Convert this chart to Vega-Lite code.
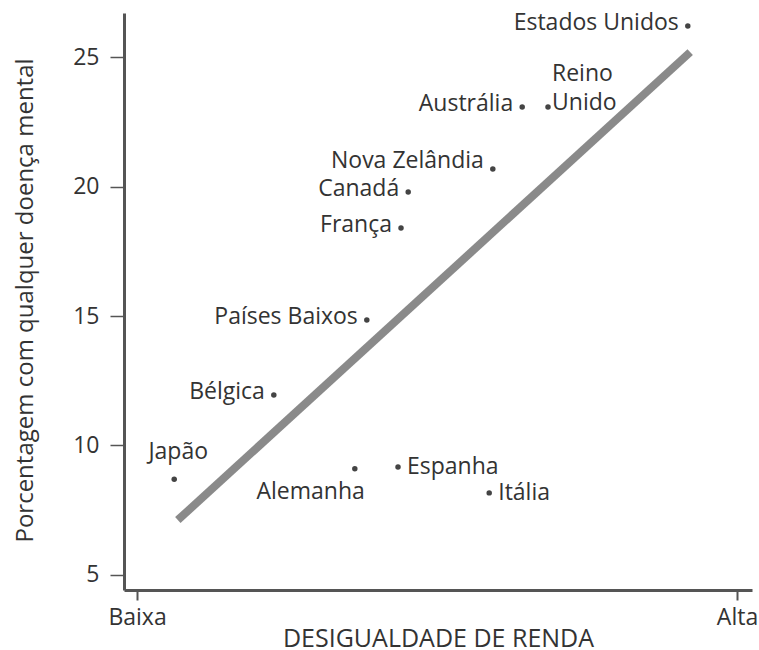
{
  "$schema": "https://vega.github.io/schema/vega-lite/v6.json",
  "width": 628,
  "height": 577,
  "autosize": {"type": "none"},
  "padding": {"left": 124, "top": 13, "right": 7, "bottom": 60},
  "background": "white",
  "config": {
    "view": {"stroke": null},
    "font": "Open Sans",
    "text": {"font": "Open Sans", "fontSize": 23, "color": "#333333"}
  },
  "datasets": {
    "paises": [
      {"pais": "Estados Unidos", "desigualdade": 91.8, "doenca": 26.2},
      {"pais": "Reino Unido", "desigualdade": 68.5, "doenca": 23.07},
      {"pais": "Austrália", "desigualdade": 64.2, "doenca": 23.07},
      {"pais": "Nova Zelândia", "desigualdade": 59.3, "doenca": 20.68},
      {"pais": "Canadá", "desigualdade": 45.2, "doenca": 19.79},
      {"pais": "França", "desigualdade": 44.0, "doenca": 18.4},
      {"pais": "Países Baixos", "desigualdade": 38.3, "doenca": 14.85},
      {"pais": "Bélgica", "desigualdade": 22.8, "doenca": 11.95},
      {"pais": "Japão", "desigualdade": 6.2, "doenca": 8.7},
      {"pais": "Alemanha", "desigualdade": 36.3, "doenca": 9.1},
      {"pais": "Espanha", "desigualdade": 43.5, "doenca": 9.17},
      {"pais": "Itália", "desigualdade": 58.7, "doenca": 8.17}
    ],
    "tendencia": [
      {"desigualdade": 6.8, "doenca": 7.12},
      {"desigualdade": 92.2, "doenca": 25.19}
    ]
  },
  "encoding": {
    "x": {
      "field": "desigualdade",
      "type": "quantitative",
      "scale": {"domain": [-2.17, 102.5], "nice": false, "zero": false},
      "axis": {
        "values": [0, 100],
        "labelExpr": "datum.value == 0 ? 'Baixa' : 'Alta'",
        "grid": false,
        "domainColor": "#555555",
        "domainWidth": 3,
        "tickColor": "#555555",
        "tickWidth": 2,
        "tickSize": 10,
        "labelPadding": 6,
        "labelFontSize": 23,
        "labelColor": "#333333",
        "labelFont": "Open Sans",
        "title": "DESIGUALDADE DE RENDA",
        "titleFont": "Open Sans",
        "titleFontSize": 25,
        "titleFontWeight": "normal",
        "titleColor": "#333333",
        "titleBaseline": "alphabetic",
        "titleY": 56
      }
    },
    "y": {
      "field": "doenca",
      "type": "quantitative",
      "scale": {"domain": [4.42, 26.7], "nice": false, "zero": false},
      "axis": {
        "values": [5, 10, 15, 20, 25],
        "grid": false,
        "domainColor": "#555555",
        "domainWidth": 3,
        "tickColor": "#555555",
        "tickWidth": 1.5,
        "tickSize": 14,
        "labelPadding": 11,
        "labelFontSize": 23,
        "labelColor": "#333333",
        "labelFont": "Open Sans",
        "title": "Porcentagem com qualquer doença mental",
        "titleFont": "Open Sans",
        "titleFontSize": 24,
        "titleFontWeight": "normal",
        "titleColor": "#333333",
        "titleAngle": -90,
        "titleAlign": "center",
        "titleBaseline": "middle",
        "titleX": -99,
        "titleY": 287
      }
    }
  },
  "layer": [
    {
      "data": {"name": "tendencia"},
      "mark": {"type": "line", "color": "#8a8a8a", "strokeWidth": 8, "strokeCap": "butt"}
    },
    {
      "data": {"name": "paises"},
      "mark": {"type": "circle", "color": "#444444", "size": 30, "opacity": 1}
    },
    {
      "data": {"name": "paises"},
      "transform": [{"filter": {"field": "pais", "oneOf": ["Estados Unidos", "Austrália", "Canadá", "França", "Países Baixos", "Bélgica"]}}],
      "mark": {"type": "text", "align": "right", "baseline": "middle", "dx": -9, "dy": -3},
      "encoding": {"text": {"field": "pais"}}
    },
    {
      "data": {"name": "paises"},
      "transform": [{"filter": {"field": "pais", "equal": "Nova Zelândia"}}],
      "mark": {"type": "text", "align": "right", "baseline": "middle", "dx": -9, "dy": -8},
      "encoding": {"text": {"field": "pais"}}
    },
    {
      "data": {"name": "paises"},
      "transform": [{"filter": {"field": "pais", "equal": "Reino Unido"}}],
      "mark": {"type": "text", "align": "left", "baseline": "middle", "dx": 4, "dy": -33, "lineBreak": " ", "lineHeight": 29},
      "encoding": {"text": {"field": "pais"}}
    },
    {
      "data": {"name": "paises"},
      "transform": [{"filter": {"field": "pais", "equal": "Japão"}}],
      "mark": {"type": "text", "align": "center", "baseline": "middle", "dx": 4, "dy": -27},
      "encoding": {"text": {"field": "pais"}}
    },
    {
      "data": {"name": "paises"},
      "transform": [{"filter": {"field": "pais", "equal": "Alemanha"}}],
      "mark": {"type": "text", "align": "right", "baseline": "middle", "dx": 10, "dy": 23},
      "encoding": {"text": {"field": "pais"}}
    },
    {
      "data": {"name": "paises"},
      "transform": [{"filter": {"field": "pais", "oneOf": ["Espanha", "Itália"]}}],
      "mark": {"type": "text", "align": "left", "baseline": "middle", "dx": 9, "dy": 0},
      "encoding": {"text": {"field": "pais"}}
    }
  ]
}
